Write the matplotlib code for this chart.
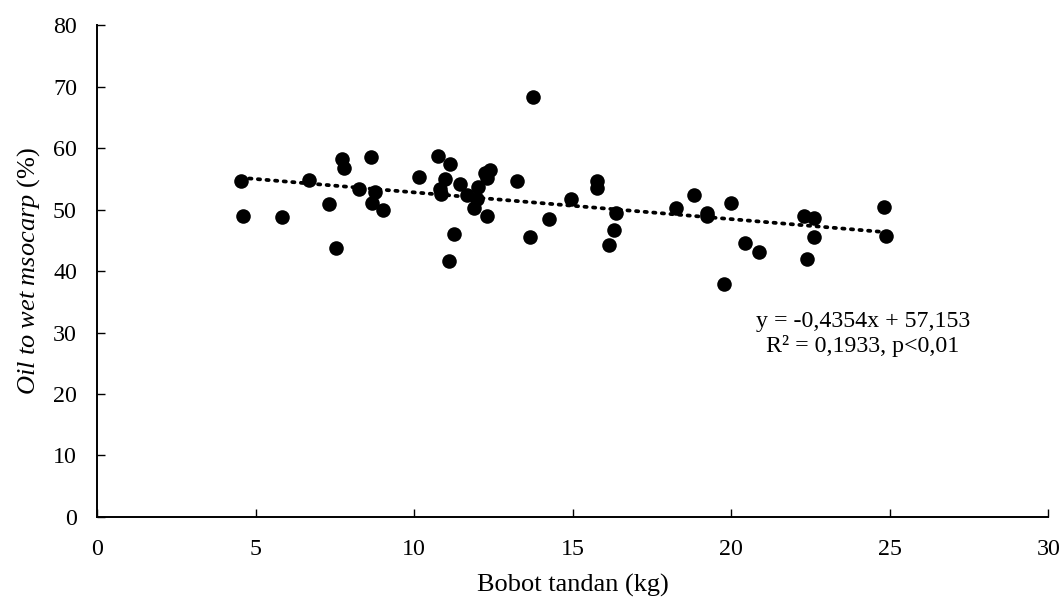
import matplotlib
matplotlib.use("Agg")
import matplotlib.pyplot as plt
import numpy as np

plt.rcParams['font.family'] = ['Liberation Serif', 'DejaVu Serif']
plt.rcParams['mathtext.fontset'] = 'custom'
plt.rcParams['mathtext.rm'] = 'Liberation Serif'
plt.rcParams['mathtext.it'] = 'Liberation Serif:italic'

bunch_weight = [4.53, 4.60, 5.84, 6.67, 7.31, 7.54, 7.72, 7.79, 8.27, 8.63, 8.76, 8.66, 9.03,
                10.17, 10.75, 11.14, 10.99, 10.82, 10.86, 11.27, 11.11, 11.45, 11.66, 12.03,
                11.89, 11.98, 12.24, 12.40, 12.31, 12.31, 13.24, 13.66, 14.24, 13.74, 14.94,
                15.77, 15.77, 16.36, 16.31, 16.14, 18.26, 18.82, 19.25, 19.25, 19.99, 19.78,
                20.44, 20.89, 22.30, 22.60, 22.60, 22.39, 24.83, 24.87]
oil_wet = [54.7, 48.9, 48.8, 54.8, 50.9, 43.8, 58.3, 56.7, 53.4, 58.6, 52.8, 51.0, 50.0,
           55.3, 58.7, 57.4, 54.9, 53.3, 52.5, 46.1, 41.6, 54.1, 52.4, 53.6,
           50.3, 51.8, 55.9, 56.4, 55.2, 48.9, 54.7, 45.5, 48.4, 68.3, 51.7,
           54.6, 53.5, 49.4, 46.6, 44.3, 50.3, 52.4, 49.4, 48.9, 51.0, 37.9,
           44.5, 43.1, 48.9, 48.6, 45.5, 42.0, 50.5, 45.7]

slope = -0.4354
intercept = 57.153
eq_text = "y = -0,4354x + 57,153\nR² = 0,1933, p<0,01"

fig = plt.figure(figsize=(10.64, 5.99), dpi=100)
ax = fig.add_axes([0.0912, 0.137, 0.894, 0.821])

ax.scatter(bunch_weight, oil_wet, s=110, color='black', zorder=3, linewidths=0)
xs = np.array([min(bunch_weight), max(bunch_weight)])
ax.plot(xs, slope * xs + intercept, color='black', linestyle=(0, (0.6, 1.7)),
        linewidth=2.7, dash_capstyle='round', zorder=2)

ax.set_xlim(0, 30)
ax.set_ylim(0, 80)
ax.set_xticks(range(0, 31, 5))
ax.set_yticks(range(0, 81, 10))
for s in ['top', 'right']:
    ax.spines[s].set_visible(False)
for s in ['left', 'bottom']:
    ax.spines[s].set_linewidth(1.4)
ax.tick_params(direction='in', length=6, width=1.0, labelsize=17.3)
ax.tick_params(axis='y', pad=14.5)
ax.tick_params(axis='x', pad=16)

ax.set_xlabel("Bobot tandan (kg)", fontsize=19, labelpad=10)
ax.set_ylabel(r"$\mathit{Oil\ to\ wet\ msocarp}$ (%)", fontsize=19, labelpad=8)

ax.text(24.16, 29.8, eq_text, ha='center', va='center', fontsize=17.2, linespacing=1.17)

fig.savefig("out.png", dpi=100)
